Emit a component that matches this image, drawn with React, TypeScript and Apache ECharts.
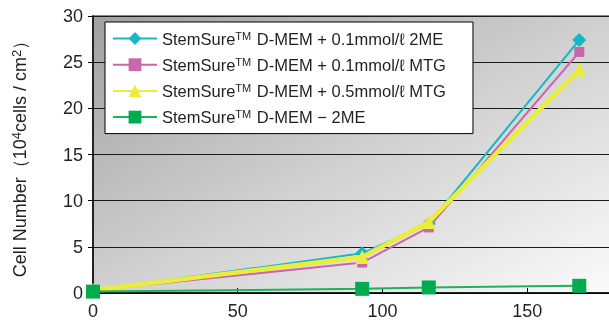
import React, { useEffect, useRef } from "react";
import * as echarts from "echarts";

const xValues = [0, 93, 116, 168];
const seriesNames = [
  "StemSure{sup|TM} D-MEM + 0.1mmol/ℓ 2ME",
  "StemSure{sup|TM} D-MEM + 0.1mmol/ℓ MTG",
  "StemSure{sup|TM} D-MEM + 0.5mmol/ℓ MTG",
  "StemSure{sup|TM} D-MEM − 2ME",
];
const cyanValues = [0.3, 4.3, 7.5, 27.4];
const pinkValues = [0.3, 3.3, 7.1, 26.1];
const yellowValues = [0.3, 3.9, 7.7, 24.2];
const greenValues = [0.15, 0.45, 0.6, 0.78];
const yTicks = [0, 5, 10, 15, 20, 25, 30];
const xTicks = [0, 50, 100, 150];

const FONT = "'Liberation Sans', Arial, sans-serif";

export default function App() {
  const ref = useRef<HTMLDivElement>(null);
  useEffect(() => {
    if (!ref.current) return;
    const chart = echarts.init(ref.current, undefined, { renderer: "svg" });
    const pair = (vals: number[]) => xValues.map((x, i) => [x, vals[i]]);
    const names = seriesNames.map((s) => s);
    chart.setOption({
      animation: false,
      textStyle: { fontFamily: FONT },
      grid: {
        left: 93,
        top: 16,
        bottom: 39,
        width: 521,
        outerBoundsMode: "none",
        show: true,
        borderColor: "#8a8a8a",
        borderWidth: 2,
        backgroundColor: {
          type: "linear",
          x: 0,
          y: 0,
          x2: 1,
          y2: 1,
          colorStops: [
            { offset: 0, color: "#a0a0a0" },
            { offset: 0.5, color: "#d0d0d0" },
            { offset: 1, color: "#fbfbfb" },
          ],
        },
      },
      legend: {
        left: 105,
        top: 22,
        orient: "vertical",
        backgroundColor: "#ffffff",
        borderColor: "#000000",
        borderWidth: 1,
        padding: [8, 27, 8, 7],
        itemWidth: 44,
        itemHeight: 16,
        itemGap: 9.2,
        data: names,
        formatter: (n: string) => n,
        textStyle: {
          fontSize: 16.5,
          color: "#231f20",
          fontFamily: FONT,
          rich: {
            sup: { fontSize: 11, verticalAlign: "top", padding: [0, 1, 6, 0], color: "#231f20", fontFamily: FONT },
          },
        },
      },
      xAxis: {
        type: "value",
        min: 0,
        max: 180,
        interval: 50,
        axisLine: { show: true, lineStyle: { color: "#000", width: 1.5 } },
        axisTick: { show: true, inside: true, length: 5, lineStyle: { color: "#000" } },
        axisLabel: {
          fontSize: 18,
          color: "#231f20",
          margin: 9,
          formatter: (v: number) => (xTicks.includes(v) ? String(v) : ""),
        },
        splitLine: { show: false },
      },
      yAxis: {
        type: "value",
        min: 0,
        max: 30,
        interval: 5,
        name: "Cell Number（10{sup|4}cells / cm{sup|2}）",
        nameLocation: "middle",
        nameRotate: 90,
        nameGap: 64,
        nameTextStyle: {
          fontSize: 18,
          color: "#231f20",
          fontFamily: FONT,
          padding: [0, 0, 0, 0],
          rich: {
            sup: { fontSize: 13, verticalAlign: "top", padding: [0, 0, 6, 0], color: "#231f20", fontFamily: FONT },
          },
        },
        axisLine: { show: true, lineStyle: { color: "#000", width: 1.5 } },
        axisTick: { show: true, inside: false, length: 5, lineStyle: { color: "#000" } },
        axisLabel: {
          fontSize: 18,
          color: "#231f20",
          margin: 10,
          formatter: (v: number) => (yTicks.includes(v) ? String(v) : ""),
        },
        splitLine: { show: true, lineStyle: { color: "#1a1a1a", width: 1 } },
      },
      series: [
        {
          name: names[0],
          type: "line",
          data: pair(cyanValues),
          symbol: "diamond",
          symbolSize: 14,
          clip: false,
          z: 4,
          lineStyle: { color: "#17b8c6", width: 2 },
          itemStyle: { color: "#17b8c6" },
        },
        {
          name: names[1],
          type: "line",
          data: pair(pinkValues),
          symbol: "rect",
          symbolSize: 10,
          clip: false,
          z: 3,
          lineStyle: { color: "#c967ad", width: 2 },
          itemStyle: { color: "#c967ad" },
        },
        {
          name: names[2],
          type: "line",
          data: pair(yellowValues),
          symbol: "triangle",
          symbolSize: 14,
          clip: false,
          z: 5,
          lineStyle: { color: "#ecec3c", width: 4.5 },
          itemStyle: { color: "#ecec3c" },
        },
        {
          name: names[3],
          type: "line",
          data: pair(greenValues),
          symbol: "rect",
          symbolSize: 14,
          clip: false,
          z: 6,
          lineStyle: { color: "#1db35a", width: 2 },
          itemStyle: { color: "#00ac4e" },
        },
      ],
    });
    return () => chart.dispose();
  }, []);
  return (
    <div
      ref={ref}
      style={{ position: "fixed", left: 0, top: 0, width: 609, height: 332 }}
    />
  );
}
